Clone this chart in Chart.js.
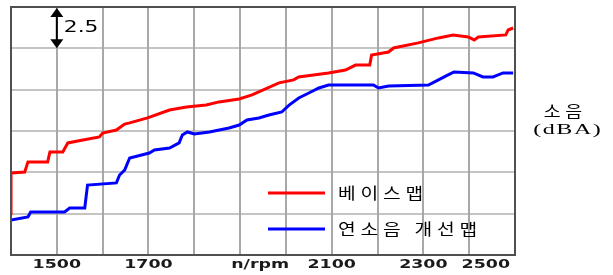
<!DOCTYPE html>
<html>
<head>
<meta charset="utf-8">
<script src="https://cdn.jsdelivr.net/npm/chart.js@4"></script>
<style>
  html, body { margin: 0; padding: 0; background: #fff; }
  #wrap { width: 613px; height: 275px; }
</style>
</head>
<body>
<div id="wrap"><canvas id="myChart"></canvas></div>
<script>
// rpm / relative noise (dBA, 2.5 per grid step)
const baseRpm = [1400, 1400, 1430, 1437, 1480, 1485, 1513, 1524, 1557, 1593, 1600, 1630, 1648, 1659, 1698, 1746, 1783, 1826, 1854, 1898, 1926, 1985, 2017, 2028, 2093, 2130, 2152, 2183, 2187, 2224, 2235, 2289, 2333, 2365, 2398, 2411, 2420, 2480, 2485, 2496]
const baseDb = [2.42, 4.96, 5.02, 5.63, 5.63, 6.23, 6.23, 6.78, 6.96, 7.14, 7.38, 7.56, 7.92, 7.99, 8.29, 8.77, 8.95, 9.07, 9.26, 9.44, 9.68, 10.41, 10.59, 10.77, 11.01, 11.19, 11.49, 11.49, 12.10, 12.28, 12.52, 12.83, 13.13, 13.31, 13.19, 13.01, 13.19, 13.31, 13.61, 13.73]

const newRpm = [1400, 1437, 1443, 1517, 1528, 1561, 1567, 1630, 1637, 1648, 1659, 1702, 1713, 1746, 1767, 1774, 1785, 1800, 1833, 1876, 1898, 1915, 1941, 1963, 1991, 2007, 2028, 2050, 2072, 2093, 2191, 2202, 2224, 2311, 2333, 2354, 2367, 2409, 2430, 2452, 2474, 2496]
const newDb = [2.12, 2.30, 2.60, 2.60, 2.84, 2.84, 4.23, 4.36, 4.84, 5.14, 5.87, 6.17, 6.35, 6.47, 6.78, 7.26, 7.44, 7.32, 7.44, 7.68, 7.86, 8.17, 8.29, 8.47, 8.65, 9.07, 9.50, 9.80, 10.10, 10.28, 10.28, 10.10, 10.22, 10.28, 10.59, 10.89, 11.07, 11.01, 10.77, 10.77, 11.01, 11.01]

const seriesNames = ['베이스맵', '연소음 개선맵']
const seriesColors = ['#ff0000', '#0000ff']

const gridRpm = [1500, 1600, 1700, 1800, 1900, 2000, 2100, 2200, 2300, 2400]
const tickValues = [1500, 1700, 1900, 2100, 2300, 2500]
const tickLabels = ['1500', '1700', 'n/rpm', '2100', '2300', '2500']

const stepLabel = '2.5'
const yTitle = ['소음', '(dBA)']

const ctx = document.getElementById('myChart')

function toPoints(xs, ys) {
    return xs.map((x, i) => ({ x: x, y: ys[i] }))
}

// draw text stretched sideways, char by char
function drawWide(c, text, x, y, sx, spacing, align) {
    c.save()
    c.translate(x, y)
    c.scale(sx, 1)
    c.textAlign = 'left'
    c.textBaseline = 'middle'
    const chars = Array.from(text)
    const widths = chars.map(ch => c.measureText(ch).width)
    let total = widths.reduce((a, b) => a + b, 0) + spacing * (chars.length - 1)
    let pos = 0
    if (align === 'center') pos = -total / 2
    if (align === 'right') pos = -total
    chars.forEach((ch, i) => {
        c.fillText(ch, pos, 0)
        pos += widths[i] + spacing
    })
    c.restore()
}

const extras = {
    id: 'extras',
    beforeDatasetsDraw(chart) {
        // vertical grid every 100 rpm
        const c = chart.ctx
        const area = chart.chartArea
        const xs = chart.scales.x
        c.save()
        c.strokeStyle = '#a8a8a8'
        c.lineWidth = 2
        c.beginPath()
        gridRpm.forEach(v => {
            const px = Math.round(xs.getPixelForValue(v))
            c.moveTo(px, area.top)
            c.lineTo(px, area.bottom)
        })
        c.stroke()
        c.restore()
    },
    afterDraw(chart) {
        const c = chart.ctx
        const area = chart.chartArea
        const xs = chart.scales.x
        const ys = chart.scales.y

        // frame
        c.save()
        c.strokeStyle = '#505050'
        c.lineWidth = 2
        c.strokeRect(area.left, area.top, area.right - area.left, area.bottom - area.top)
        c.restore()

        // x labels
        c.save()
        c.fillStyle = '#1a1a1a'
        c.font = 'bold 12px "DejaVu Sans"'
        tickValues.forEach((v, i) => {
            let px = xs.getPixelForValue(v)
            let align = 'center'
            if (tickLabels[i] === 'n/rpm') px += 20
            if (i === tickValues.length - 1) { px = area.right - 5; align = 'right' }
            drawWide(c, tickLabels[i], px, 265, 1.45, 0, align)
        })
        c.restore()

        // 2.5 step arrow
        const ax = xs.getPixelForValue(1500)
        const ay1 = ys.getPixelForValue(15) + 1
        const ay2 = ys.getPixelForValue(12.5)
        c.save()
        c.strokeStyle = '#000'
        c.fillStyle = '#000'
        c.lineWidth = 2
        c.beginPath()
        c.moveTo(ax, ay1 + 6)
        c.lineTo(ax, ay2 - 6)
        c.stroke()
        c.beginPath()
        c.moveTo(ax, ay1)
        c.lineTo(ax - 6.5, ay1 + 9)
        c.lineTo(ax + 6.5, ay1 + 9)
        c.closePath()
        c.fill()
        c.beginPath()
        c.moveTo(ax, ay2)
        c.lineTo(ax - 6.5, ay2 - 9)
        c.lineTo(ax + 6.5, ay2 - 9)
        c.closePath()
        c.fill()
        c.font = '15px "DejaVu Sans"'
        drawWide(c, stepLabel, ax + 7, (ay1 + ay2) / 2, 1.45, 0, 'left')
        c.restore()

        // legend
        c.save()
        c.font = '16px "Noto Sans CJK KR"'
        c.fillStyle = '#000'
        const legY = [193, 229]
        seriesNames.forEach((name, i) => {
            c.strokeStyle = seriesColors[i]
            c.lineWidth = 3
            c.beginPath()
            c.moveTo(268, legY[i])
            c.lineTo(325, legY[i])
            c.stroke()
            drawWide(c, name, 338, legY[i], 1.2, 4, 'left')
        })
        c.restore()

        // y title on the right
        c.save()
        c.fillStyle = '#000'
        c.font = '16px "Noto Sans CJK KR"'
        drawWide(c, yTitle[0], 563, 111, 1.15, 4, 'center')
        c.font = '15px "Liberation Serif"'
        drawWide(c, yTitle[1], 567, 130, 1.6, 1, 'center')
        c.restore()
    }
}

new Chart(ctx, {
    type: 'line',
    data: {
        datasets: [{
            label: seriesNames[0],
            data: toPoints(baseRpm, baseDb),
            borderColor: seriesColors[0],
            borderWidth: 3,
            pointRadius: 0,
            tension: 0
        }, {
            label: seriesNames[1],
            data: toPoints(newRpm, newDb),
            borderColor: seriesColors[1],
            borderWidth: 3,
            pointRadius: 0,
            tension: 0
        }]
    },
    plugins: [extras],
    options: {
        responsive: true,
        maintainAspectRatio: false,
        animation: false,
        layout: {
            padding: { left: 11, right: 98, top: 7, bottom: 20 }
        },
        plugins: {
            legend: { display: false },
            tooltip: { enabled: false }
        },
        scales: {
            x: {
                type: 'linear',
                min: 1400,
                max: 2500,
                border: { display: false },
                grid: { color: '#c4c4c4', lineWidth: 2, drawTicks: false },
                ticks: { stepSize: 100, display: false }
            },
            y: {
                min: 0,
                max: 15,
                border: { display: false },
                grid: { color: '#c4c4c4', lineWidth: 2, drawTicks: false },
                ticks: { stepSize: 2.5, display: false }
            }
        }
    }
});
</script>
</body>
</html>
